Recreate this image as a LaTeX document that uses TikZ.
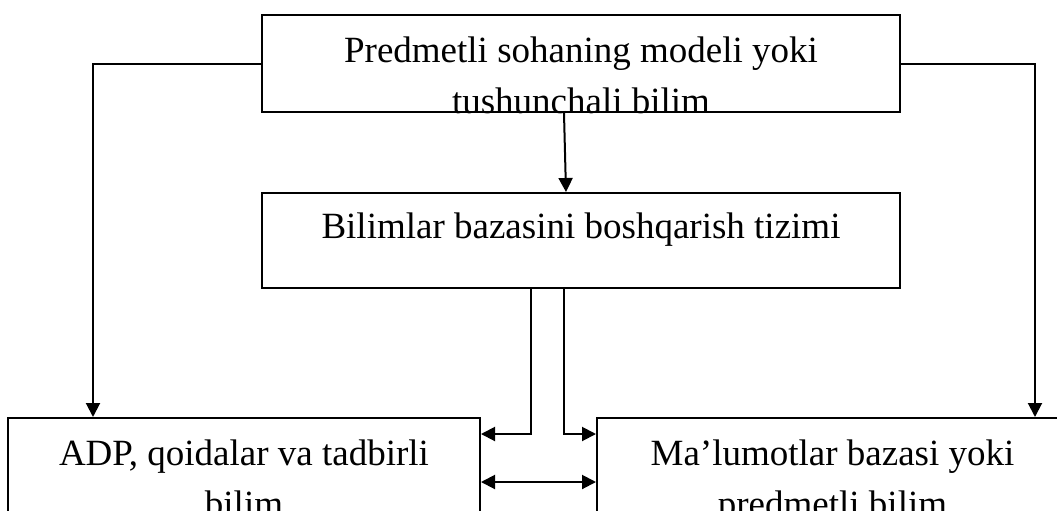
\documentclass[tikz,border=0pt]{standalone}
\usepackage{fontspec}
\setmainfont{Liberation Serif}
\usetikzlibrary{arrows.meta}
\tikzset{
        x=0.5pt, y=-0.5pt, % one unit is one pixel, y runs down
        >={Triangle[length=7pt,width=7pt]}, % filled heads
        block/.style={draw, line width=1pt, inner sep=0pt},
        boxtext/.style={font=\fontsize{18.5}{25.5}\selectfont, align=center, inner sep=0pt},
        link/.style={->, line width=1pt}
        }
\begin{document}
\begin{tikzpicture}
        \useasboundingbox (0,0) rectangle (1057,510);
        \node[block, minimum width=319pt, minimum height=48.5pt] (model) at (581,63.5) {};
        \node[block, minimum width=319pt, minimum height=47.5pt] (bbbt) at (581,240.5) {};
        \node[block, minimum width=236pt, minimum height=80pt] (adp) at (244,498) {};
        \node[block, minimum width=235.5pt, minimum height=80pt] (mb) at (832.5,498) {};
        \begin{scope}
                \clip (model.south west) rectangle (model.north east);
                \node[boxtext, anchor=base] (modeltext) at (581,113) {Predmetli sohaning modeli yoki\\tushunchali bilim};
        \end{scope}
        \node[boxtext, anchor=base] (bbbttext) at (581,238) {Bilimlar bazasini boshqarish tizimi};
        \node[boxtext, anchor=base] (adptext) at (244,516) {ADP, qoidalar va tadbirli\\bilim};
        \node[boxtext, anchor=base] (mbtext) at (832.5,516) {Ma’lumotlar bazasi yoki\\predmetli bilim};
        \coordinate (lft) at (93,63);
        \coordinate (rgt) at (1035,63);
        \coordinate (dl) at (531,434);
        \coordinate (dr) at (564,434);
        \coordinate (dbl) at (540,482);
        \draw[link] (model.west) -| (adp.north -| lft);
        \draw[link] (model.east) -| (mb.north -| rgt);
        \draw[link] ([xshift=-8.5pt]model.south) -- ([xshift=-7.5pt]bbbt.north);
        \draw[link] (bbbt.south -| dl) |- (adp.east |- dl);
        \draw[link] (bbbt.south -| dr) |- (mb.west |- dr);
        \draw[link, <->] (adp.east |- dbl) -- (mb.west |- dbl);
\end{tikzpicture}
\end{document}
